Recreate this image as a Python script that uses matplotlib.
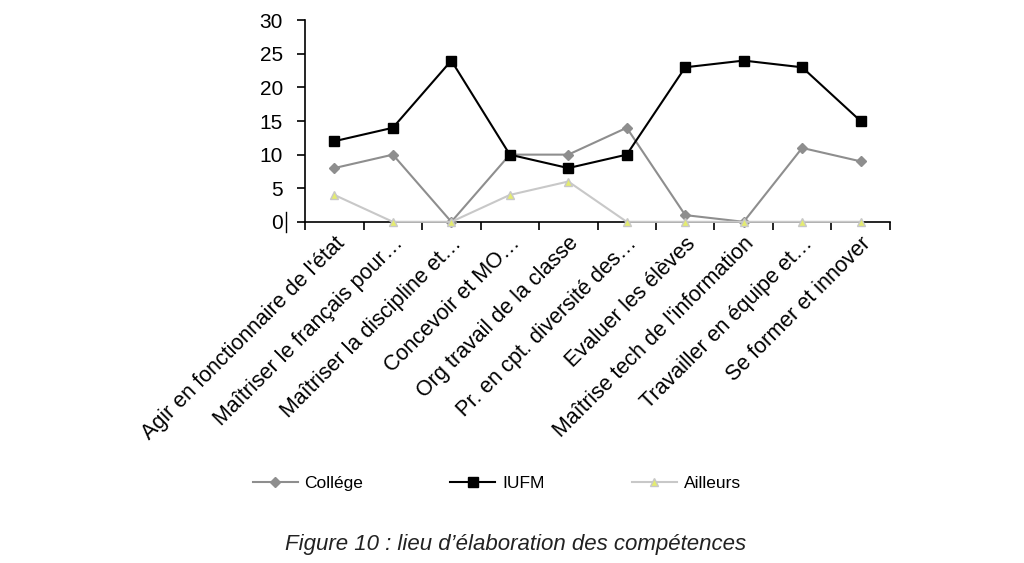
import matplotlib.pyplot as plt
from matplotlib.lines import Line2D

plt.rcParams['font.family'] = ['Liberation Sans', 'DejaVu Sans']

categories = [
    "Agir en fonctionnaire de l'état",
    "Maîtriser le français pour…",
    "Maîtriser la discipline et…",
    "Concevoir et MO…",
    "Org travail de la classe",
    "Pr. en cpt. diversité des…",
    "Evaluer les élèves",
    "Maîtrise tech de l'information",
    "Travailler en équipe et…",
    "Se former et innover",
]
college = [8, 10, 0, 10, 10, 14, 1, 0, 11, 9]
iufm = [12, 14, 24, 10, 8, 10, 23, 24, 23, 15]
ailleurs = [4, 0, 0, 4, 6, 0, 0, 0, 0, 0]
y_ticks = [0, 5, 10, 15, 20, 25, 30]

fig = plt.figure(figsize=(10.24, 5.63), dpi=100)
ax = fig.add_axes([0.298, 0.606, 0.571, 0.358])

x = list(range(len(categories)))
ax.plot(x, college, color='#8e8e8e', lw=1.5, marker='D', ms=5,
        mfc='#8e8e8e', mec='#8e8e8e', label='Collége', clip_on=False, zorder=3)
ax.plot(x, iufm, color='black', lw=1.5, marker='s', ms=7,
        mfc='black', mec='black', label='IUFM', clip_on=False, zorder=4)
ax.plot(x, ailleurs, color='#c8c8c8', lw=1.5, marker='^', ms=6,
        mfc='#e4ec70', mec='#c8c8c8', label='Ailleurs', clip_on=False, zorder=5)

ax.set_xlim(-0.5, len(categories) - 0.5)
ax.set_ylim(0, 30)
ax.set_yticks(y_ticks)
ax.set_yticklabels([str(v) for v in y_ticks], fontsize=15)
ax.set_xticks(x)
ax.set_xticklabels(categories, rotation=45, ha='right', va='top',
                   rotation_mode='anchor', fontsize=15.5)
ax.set_xticks([i - 0.5 for i in range(len(categories) + 1)], minor=True)
ax.tick_params(axis='x', which='major', length=0, pad=8)
ax.tick_params(axis='x', which='minor', length=6, width=1.2, direction='out')
ax.tick_params(axis='y', length=6, width=1.2, direction='out', pad=10)

for s in ['top', 'right']:
    ax.spines[s].set_visible(False)
for s in ['left', 'bottom']:
    ax.spines[s].set_linewidth(1.2)
    ax.spines[s].set_zorder(1)

# small stray bar next to the 0 label
fig.add_artist(Line2D([0.2795, 0.2795], [0.588, 0.624], color='black', lw=1))

fig.legend(loc='center', bbox_to_anchor=(0.485, 0.142), ncol=3, frameon=False,
           fontsize=12.5, handlelength=2.6, columnspacing=5.0, handletextpad=0.4)

fig.text(0.503, 0.032, "Figure 10 : lieu d’élaboration des compétences",
         ha='center', va='center', fontsize=16, style='italic', color='#222222')

fig.savefig('out.png', dpi=100, facecolor='white')
